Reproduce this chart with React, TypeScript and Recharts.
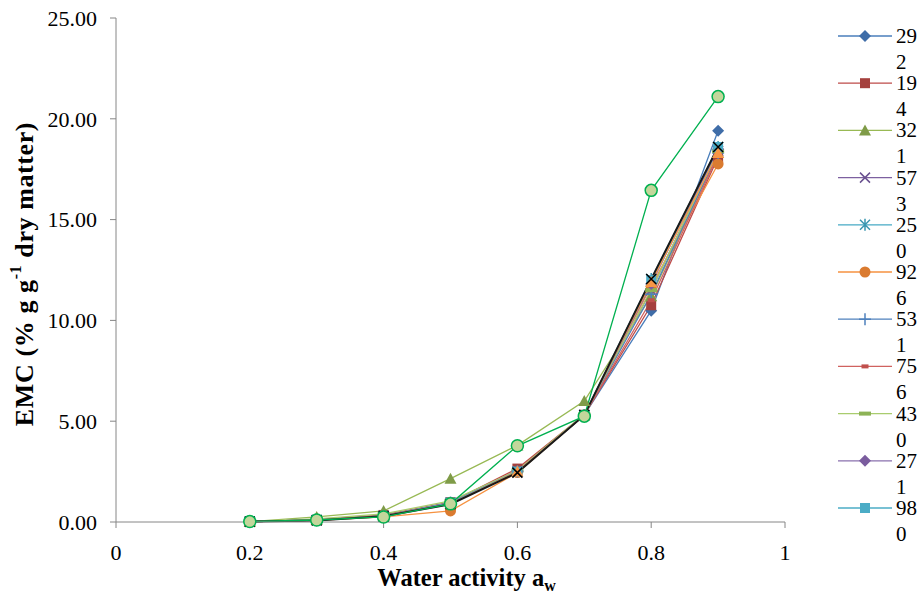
import { LineChart, Line, XAxis, YAxis, Label } from "recharts";

// water activity levels
const aw = [0.2, 0.3, 0.4, 0.5, 0.6, 0.7, 0.8, 0.9];

// EMC values (% g/g dry matter) per sample
const s292 = [0.02, 0.08, 0.3, 0.92, 2.55, 5.3, 10.48, 19.41];
const s194 = [0.02, 0.1, 0.35, 0.98, 2.65, 5.32, 10.75, 18.1];
const s321 = [0.02, 0.25, 0.55, 2.15, 3.8, 6.0, 11.2, 18.3];
const s573 = [0.02, 0.1, 0.3, 0.95, 2.5, 5.3, 11.5, 18.4];
const s250 = [0.02, 0.1, 0.3, 0.95, 2.5, 5.3, 12.05, 18.6];
const s926 = [0.02, 0.08, 0.25, 0.55, 2.45, 5.3, 11.7, 17.76];
const s531 = [0.02, 0.1, 0.3, 0.95, 2.5, 5.3, 11.3, 18.3];
const s756 = [0.02, 0.1, 0.32, 0.95, 2.55, 5.3, 11.0, 18.2];
const s430 = [0.02, 0.15, 0.4, 1.05, 2.55, 5.35, 11.5, 18.4];
const s271 = [0.02, 0.1, 0.3, 0.95, 2.5, 5.3, 11.8, 18.5];
const s980 = [0.02, 0.1, 0.3, 0.95, 2.5, 5.3, 12.0, 18.6];
const s12 = [0.02, 0.1, 0.3, 0.9, 2.5, 5.3, 11.9, 18.3];
const s13 = [0.02, 0.08, 0.28, 0.88, 2.45, 5.3, 12.05, 18.6];
const s14 = [0.02, 0.1, 0.25, 0.9, 3.78, 5.25, 16.45, 21.1];

const xTicks = [0, 0.2, 0.4, 0.6, 0.8, 1];
const yTicks = [0, 5, 10, 15, 20, 25];

const seriesNames = ["292", "194", "321", "573", "250", "926", "531", "756", "430", "271", "980", "s12", "s13", "s14"];
const seriesValues = [s292, s194, s321, s573, s250, s926, s531, s756, s430, s271, s980, s12, s13, s14];
const legendCount = 11;

type Shape = "diamond" | "square" | "triangle" | "x" | "star" | "circle" | "plus" | "dash" | "bar" | "ring";

const styles: { line: string; fill: string; shape: Shape; width?: number }[] = [
  { line: "#4A7EBB", fill: "#3F6DA8", shape: "diamond" },
  { line: "#BE4B48", fill: "#A5403D", shape: "square" },
  { line: "#98B954", fill: "#7F9B48", shape: "triangle" },
  { line: "#7D60A0", fill: "#6A5190", shape: "x" },
  { line: "#46AAC5", fill: "#3996B0", shape: "star" },
  { line: "#F69240", fill: "#DA7B30", shape: "circle" },
  { line: "#4F81BD", fill: "#4F81BD", shape: "plus" },
  { line: "#D0625F", fill: "#C0504D", shape: "dash" },
  { line: "#A9CC6E", fill: "#8DB356", shape: "bar" },
  { line: "#8A70AE", fill: "#7A5C9E", shape: "diamond" },
  { line: "#4BACC6", fill: "#4BACC6", shape: "square" },
  { line: "#F79646", fill: "#F79646", shape: "triangle" },
  { line: "#1A1A1A", fill: "#000000", shape: "x", width: 2 },
  { line: "#00B050", fill: "#C3D69B", shape: "ring" },
];

const data = aw.map((x, i) => {
  const row: Record<string, number> = { aw: x };
  seriesNames.forEach((n, k) => {
    row[n] = seriesValues[k][i];
  });
  return row;
});

const serif = "Liberation Serif, Times New Roman, serif";
const tickSize = 22;

function Marker({ cx, cy, shape, fill, line }: { cx: number; cy: number; shape: Shape; fill: string; line: string }) {
  switch (shape) {
    case "diamond":
      return <polygon points={`${cx},${cy - 6} ${cx + 6},${cy} ${cx},${cy + 6} ${cx - 6},${cy}`} fill={fill} />;
    case "square":
      return <rect x={cx - 5} y={cy - 5} width={10} height={10} fill={fill} />;
    case "triangle":
      return <polygon points={`${cx},${cy - 6} ${cx + 6},${cy + 5} ${cx - 6},${cy + 5}`} fill={fill} />;
    case "x":
      return (
        <path d={`M${cx - 5},${cy - 5}L${cx + 5},${cy + 5}M${cx - 5},${cy + 5}L${cx + 5},${cy - 5}`} stroke={fill} strokeWidth={1.5} />
      );
    case "star":
      return (
        <path
          d={`M${cx - 5},${cy - 5}L${cx + 5},${cy + 5}M${cx - 5},${cy + 5}L${cx + 5},${cy - 5}M${cx},${cy - 6}L${cx},${cy + 6}`}
          stroke={fill}
          strokeWidth={1.5}
        />
      );
    case "circle":
      return <circle cx={cx} cy={cy} r={5.5} fill={fill} />;
    case "plus":
      return <path d={`M${cx - 6},${cy}L${cx + 6},${cy}M${cx},${cy - 6}L${cx},${cy + 6}`} stroke={fill} strokeWidth={1.5} />;
    case "dash":
      return <rect x={cx - 3.5} y={cy - 2} width={7} height={4} fill={fill} />;
    case "bar":
      return <rect x={cx - 6} y={cy - 2} width={12} height={4} fill={fill} />;
    case "ring":
      return <circle cx={cx} cy={cy} r={6} fill={fill} stroke={line} strokeWidth={1.5} />;
  }
  return null;
}

const XTick = (p: any) => (
  <text x={p.x} y={p.y} dy="0.71em" textAnchor="middle" fontFamily={serif} fontSize={tickSize} fill="#000">
    {String(p.payload.value)}
  </text>
);

const YTick = (p: any) => (
  <text x={p.x} y={p.y} dy="0.35em" textAnchor="end" fontFamily={serif} fontSize={tickSize} fill="#000">
    {Number(p.payload.value).toFixed(2)}
  </text>
);

export default function App() {
  return (
    <div style={{ position: "absolute", left: 0, top: 0, width: 921, height: 594, fontFamily: serif }}>
      <LineChart width={921} height={594} data={data} margin={{ top: 18, right: 136, bottom: 0, left: 0 }}>
        <XAxis
          dataKey="aw"
          type="number"
          domain={[0, 1]}
          ticks={xTicks}
          height={72}
          stroke="#868686"
          tickSize={6}
          tickMargin={16}
          tick={XTick}
        >
          <Label
            content={(props: any) => {
              const vb = props.viewBox || { x: 116, y: 522, width: 669, height: 72 };
              return (
                <text x={vb.x + vb.width / 2 + 16} y={vb.y + 64} textAnchor="middle" fontFamily={serif} fontSize={24.5} fontWeight="bold" fill="#000">
                  Water activity a<tspan fontSize={16} dy={5}>w</tspan>
                </text>
              );
            }}
          />
        </XAxis>
        <YAxis
          type="number"
          domain={[0, 25]}
          ticks={yTicks}
          width={116}
          stroke="#868686"
          tickSize={6}
          tickMargin={13}
          tick={YTick}
        >
          <Label
            content={(props: any) => {
              const vb = props.viewBox || { x: 0, y: 18, width: 116, height: 504 };
              const cy = vb.y + vb.height / 2 + 4;
              return (
                <text x={24} y={cy} transform={`rotate(-90 24 ${cy})`} textAnchor="middle" dominantBaseline="central" fontFamily={serif} fontSize={26} fontWeight="bold" fill="#000" letterSpacing={0.6}>
                  EMC (% g g<tspan fontSize={16} dy={-9}>-1</tspan>
                  <tspan dy={9}> dry matter)</tspan>
                </text>
              );
            }}
          />
        </YAxis>
        {seriesNames.map((n, k) => {
          const st = styles[k];
          return (
            <Line
              key={n}
              dataKey={n}
              name={n}
              type="linear"
              stroke={st.line}
              strokeWidth={st.width ?? 1.3}
              isAnimationActive={false}
              dot={(p: any) => (
                <g key={`${n}-${p.index}`}>
                  <Marker cx={p.cx} cy={p.cy} shape={st.shape} fill={st.fill} line={st.line} />
                </g>
              )}
              activeDot={false}
            />
          );
        })}
      </LineChart>
      <svg width={921} height={594} style={{ position: "absolute", left: 0, top: 0, pointerEvents: "none" }}>
        {seriesNames.slice(0, legendCount).map((n, k) => {
          const st = styles[k];
          const y = 36 + 47.2 * k;
          return (
            <g key={n}>
              <line x1={838} x2={892} y1={y} y2={y} stroke={st.line} strokeWidth={1.3} />
              <Marker cx={865} cy={y} shape={st.shape} fill={st.fill} line={st.line} />
              <text x={896} y={y + 7} fontFamily={serif} fontSize={21} fill="#000">
                {n.slice(0, 2)}
              </text>
              <text x={896} y={y + 33} fontFamily={serif} fontSize={21} fill="#000">
                {n.slice(2)}
              </text>
            </g>
          );
        })}
      </svg>
    </div>
  );
}
